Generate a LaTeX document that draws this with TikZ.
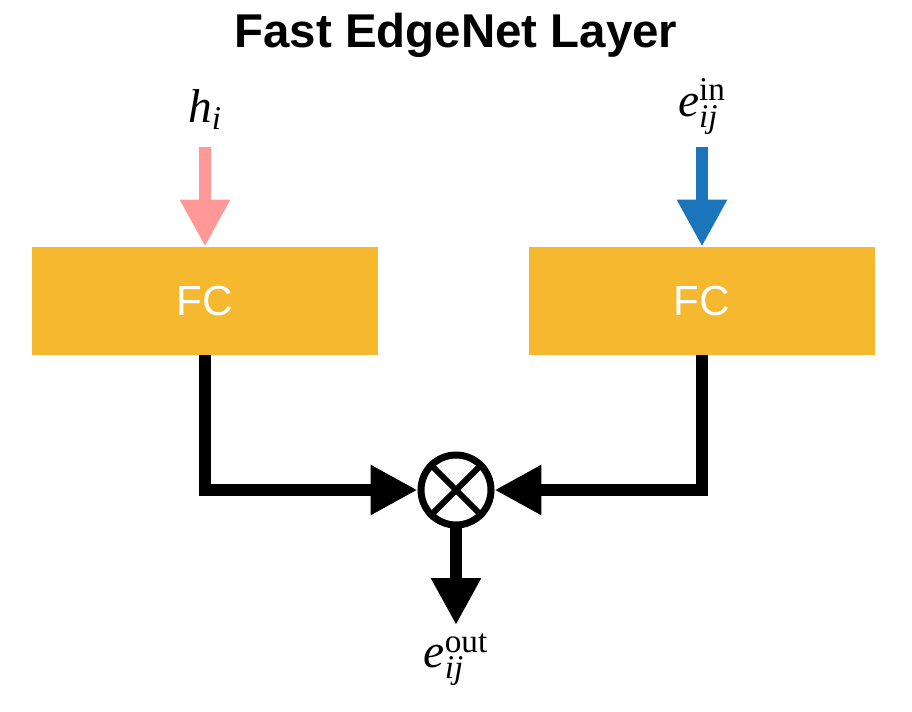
\documentclass[tikz,border=0pt]{standalone}
\usepackage{fontspec}
\newfontfamily\headfont{Liberation Sans}
\setmathrm{Liberation Serif}
\usetikzlibrary{arrows.meta}
\definecolor{fcorange}{RGB}{245,184,46}
\definecolor{hpink}{RGB}{255,152,150}
\definecolor{eblue}{RGB}{26,117,187}

\begin{document}
\begin{tikzpicture}[x=0.02cm,y=-0.02cm]

      \useasboundingbox (0,0) rectangle (912,712);

      \node (title) at (456,35) {\headfont\bfseries\fontsize{27}{32}\selectfont Fast EdgeNet Layer};

      \begin{scope}[every node/.style={rectangle, fill=fcorange, minimum width=6.92cm, minimum height=2.16cm, text=white, font=\headfont\fontsize{24}{28}\selectfont}]
        \node (lfc) at (205,301) {FC};
        \node (rfc) at (702,301) {FC};
      \end{scope}

      \begin{scope}[every node/.style={font=\fontsize{27}{32}\selectfont}]
        \node[anchor=south, inner sep=0.34cm] (hi)  at (205,147) {$\mathit{h}_{\mathit{i}}$};
        \node[anchor=south, inner sep=0.24cm] (ein) at (702,147) {$\mathit{e}_{\mathit{ij}}^{\mathrm{in}}$};
        \node[anchor=north, inner sep=0.16cm] (eout) at (456,625) {$\mathit{e}_{\mathit{ij}}^{\mathrm{out}}$};
      \end{scope}

      \node[circle, draw, line width=0.14cm, minimum size=1.4cm, inner sep=0] (mul) at (456,490) {};
      \draw[line width=0.12cm] (mul.north west) -- (mul.south east);
      \draw[line width=0.12cm] (mul.north east) -- (mul.south west);

      \begin{scope}[line width=0.24cm, -{Triangle[length=0.94cm,width=0.94cm]}]
        \draw[hpink] (hi) -- (lfc);
        \draw[eblue] (ein) -- (rfc);
        \draw (lfc.south) |- (mul.west);
        \draw (rfc.south) |- (mul.east);
        \draw (mul) -- (eout);
      \end{scope}

    \end{tikzpicture}
\end{document}
